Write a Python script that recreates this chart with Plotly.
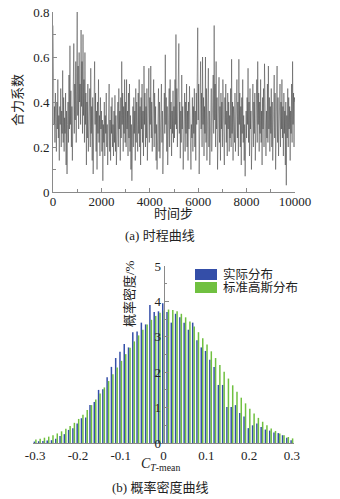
import plotly.graph_objects as go

# ---------- data: (a) time history (sampled every 20 steps) ----------
time_step = list(range(0, 10001, 20))
force_coef = [
    0.74, 0.45, 0.30, 0.38, 0.22, 0.44, 0.32, 0.18, 0.40, 0.28, 0.50, 0.24, 0.34, 0.14, 0.38, 0.30, 0.46, 0.20, 0.36, 0.26, 0.54, 0.22, 0.42, 0.18, 0.33,
    0.26, 0.44, 0.12, 0.36, 0.08, 0.30, 0.40, 0.22, 0.52, 0.28, 0.65, 0.30, 0.45, 0.20, 0.38, 0.14, 0.42, 0.36, 0.66, 0.26, 0.48, 0.32, 0.58, 0.22, 0.44,
    0.80, 0.34, 0.56, 0.28, 0.62, 0.40, 0.48, 0.30, 0.72, 0.38, 0.58, 0.26, 0.70, 0.34, 0.50, 0.22, 0.62, 0.30, 0.44, 0.12, 0.40, 0.24, 0.48, 0.18, 0.36,
    0.28, 0.46, 0.20, 0.55, 0.26, 0.38, 0.14, 0.42, 0.08, 0.32, 0.24, 0.58, 0.30, 0.44, 0.18, 0.36, 0.10, 0.40, 0.26, 0.50, 0.22, 0.34, 0.16, 0.42, 0.28,
    0.36, 0.18, 0.32, 0.05, 0.30, 0.22, 0.40, 0.16, 0.34, 0.26, 0.44, 0.20, 0.30, 0.12, 0.36, 0.24, 0.48, 0.18, 0.32, 0.14, 0.38, 0.26, 0.42, 0.20, 0.30,
    0.16, 0.36, 0.22, 0.43, 0.18, 0.34, 0.12, 0.30, 0.26, 0.40, 0.20, 0.46, 0.28, 0.36, 0.14, 0.42, 0.24, 0.58, 0.30, 0.44, 0.18, 0.38, 0.26, 0.50, 0.22,
    0.40, 0.20, 0.50, 0.28, 0.36, 0.16, 0.44, 0.24, 0.48, 0.18, 0.34, 0.10, 0.30, 0.05, 0.28, 0.38, 0.20, 0.42, 0.26, 0.36, 0.14, 0.46, 0.22, 0.40, 0.30,
    0.18, 0.44, 0.26, 0.50, 0.20, 0.38, 0.12, 0.42, 0.28, 0.48, 0.22, 0.36, 0.16, 0.56, 0.30, 0.44, 0.20, 0.38, 0.24, 0.46, 0.14, 0.40, 0.26, 0.55, 0.22,
    0.42, 0.30, 0.56, 0.24, 0.40, 0.18, 0.36, 0.28, 0.50, 0.20, 0.44, 0.26, 0.38, 0.14, 0.30, 0.10, 0.34, 0.24, 0.46, 0.18, 0.40, 0.15, 0.36, 0.28, 0.48,
    0.22, 0.36, 0.08, 0.30, 0.20, 0.44, 0.26, 0.61, 0.30, 0.42, 0.18, 0.38, 0.12, 0.34, 0.24, 0.46, 0.20, 0.50, 0.28, 0.40, 0.16, 0.36, 0.26, 0.45, 0.22,
    0.38, 0.24, 0.50, 0.30, 0.70, 0.28, 0.46, 0.20, 0.42, 0.32, 0.66, 0.26, 0.40, 0.15, 0.36, 0.22, 0.52, 0.28, 0.38, 0.10, 0.32, 0.24, 0.44, 0.18, 0.40,
    0.26, 0.48, 0.20, 0.36, 0.14, 0.40, 0.28, 0.47, 0.22, 0.34, 0.10, 0.30, 0.24, 0.42, 0.18, 0.38, 0.26, 0.46, 0.20, 0.36, 0.14, 0.44, 0.30, 0.52, 0.73,
    0.32, 0.48, 0.08, 0.36, 0.24, 0.58, 0.28, 0.44, 0.20, 0.60, 0.30, 0.42, 0.16, 0.38, 0.26, 0.60, 0.22, 0.46, 0.14, 0.40, 0.28, 0.55, 0.20, 0.36, 0.12,
    0.34, 0.24, 0.46, 0.18, 0.40, 0.30, 0.52, 0.26, 0.74, 0.32, 0.48, 0.20, 0.58, 0.28, 0.42, 0.10, 0.36, 0.24, 0.51, 0.22, 0.38, 0.14, 0.44, 0.28, 0.40,
    0.20, 0.50, 0.26, 0.38, 0.12, 0.42, 0.30, 0.48, 0.22, 0.36, 0.16, 0.44, 0.28, 0.40, 0.18, 0.34, 0.24, 0.46, 0.20, 0.59, 0.26, 0.40, 0.14, 0.38, 0.30,
    0.22, 0.44, 0.18, 0.36, 0.28, 0.50, 0.24, 0.40, 0.16, 0.59, 0.30, 0.44, 0.20, 0.38, 0.12, 0.42, 0.26, 0.50, 0.22, 0.34, 0.14, 0.30, 0.07, 0.28, 0.36,
    0.24, 0.42, 0.30, 0.55, 0.22, 0.40, 0.16, 0.46, 0.28, 0.36, 0.10, 0.32, 0.24, 0.48, 0.20, 0.40, 0.26, 0.44, 0.14, 0.38, 0.28, 0.50, 0.22, 0.58, 0.30,
    0.44, 0.18, 0.40, 0.26, 0.50, 0.22, 0.36, 0.12, 0.42, 0.28, 0.46, 0.20, 0.57, 0.30, 0.40, 0.16, 0.36, 0.24, 0.48, 0.22, 0.56, 0.28, 0.42, 0.18, 0.38,
    0.26, 0.46, 0.20, 0.40, 0.14, 0.36, 0.28, 0.52, 0.24, 0.44, 0.10, 0.38, 0.30, 0.56, 0.22, 0.42, 0.16, 0.36, 0.26, 0.48, 0.20, 0.40, 0.28, 0.50, 0.24,
    0.38, 0.16, 0.44, 0.26, 0.36, 0.12, 0.40, 0.03, 0.34, 0.24, 0.46, 0.20, 0.42, 0.28, 0.38, 0.14, 0.36, 0.26, 0.48, 0.22, 0.58, 0.30, 0.44, 0.20, 0.42,
    0.40,
]
time_ticks = [0, 2000, 4000, 6000, 8000, 10000]

# ---------- data: (b) probability density ----------
bin_centers = [round(-0.30 + 0.01 * i, 2) for i in range(61)]
actual_pct = [
    0.04, 0.05, 0.06, 0.07, 0.08, 0.12, 0.20, 0.25, 0.37, 0.42,
    0.55, 0.70, 0.72, 1.07, 1.16, 1.50, 1.52, 1.86, 2.15, 2.40,
    2.58, 2.80, 2.70, 3.13, 3.15, 3.40, 3.35, 3.90, 3.70, 3.72,
    3.95,
    3.70, 3.40, 3.65, 3.55, 3.40, 3.20, 3.40, 2.90, 2.70, 2.60,
    2.35, 2.15, 1.64, 1.64, 1.02, 1.02, 1.07, 0.85, 0.75, 0.42,
    0.50, 0.55, 0.45, 0.38, 0.35, 0.30, 0.28, 0.22, 0.15, 0.08,
]
gauss_pct = [
    0.10, 0.12, 0.15, 0.18, 0.22, 0.27, 0.33, 0.40, 0.48, 0.57,
    0.68, 0.80, 0.93, 1.07, 1.23, 1.40, 1.57, 1.75, 1.94, 2.13,
    2.32, 2.51, 2.69, 2.87, 3.04, 3.20, 3.35, 3.48, 3.59, 3.68,
    3.74,
    3.77, 3.76, 3.72, 3.65, 3.55, 3.43, 3.29, 3.13, 2.96, 2.78,
    2.59, 2.40, 2.20, 2.01, 1.82, 1.63, 1.45, 1.28, 1.12, 0.97,
    0.83, 0.71, 0.60, 0.50, 0.41, 0.34, 0.27, 0.22, 0.17, 0.13,
]
c_ticks = [-0.3, -0.2, -0.1, 0, 0.1, 0.2, 0.3]
series_names = ["实际分布", "标准高斯分布"]

W, H = 340, 499
FONT = "Liberation Serif, Noto Sans CJK SC, serif"
AX = "#8a8a8a"
BLUE = "rgb(52,78,168)"
GREEN = "rgb(112,192,64)"

def px(x):
    return x / W

def py(y):
    return 1 - y / H

fig = go.Figure()

fig.add_trace(go.Scatter(
    x=time_step, y=force_coef, mode="lines",
    line=dict(color="rgba(45,45,45,0.75)", width=0.6),
    xaxis="x", yaxis="y", showlegend=False, hoverinfo="skip",
))

fig.add_trace(go.Bar(
    x=bin_centers, y=actual_pct, name=series_names[0],
    marker=dict(color=BLUE, line=dict(width=0)),
    xaxis="x2", yaxis="y2", showlegend=False,
))
fig.add_trace(go.Bar(
    x=bin_centers, y=gauss_pct, name=series_names[1],
    marker=dict(color=GREEN, line=dict(width=0)),
    xaxis="x2", yaxis="y2", showlegend=False,
))

tickfont = dict(family=FONT, size=13, color="#222")

fig.update_layout(
    width=W, height=H,
    margin=dict(l=0, r=0, t=0, b=0, autoexpand=False),
    paper_bgcolor="white", plot_bgcolor="white",
    font=dict(family=FONT, size=13, color="#222"),
    barmode="group", bargap=0.3, bargroupgap=0.0,
    xaxis=dict(
        domain=[px(53), px(295)], range=[0, 10000], anchor="y", automargin=False,
        showgrid=False, zeroline=False, showline=True, linecolor=AX, linewidth=1,
        tickvals=time_ticks, ticktext=[str(t) for t in time_ticks],
        ticks="inside", ticklen=4, tickcolor=AX,
        minor=dict(dtick=1000, tick0=0, ticks="inside", ticklen=3, tickcolor=AX),
        tickfont=tickfont, ticklabelstandoff=-3,
    ),
    yaxis=dict(
        domain=[py(192), py(12)], range=[0, 0.8], anchor="x", automargin=False,
        showgrid=False, zeroline=False, showline=True, linecolor=AX, linewidth=1,
        tickvals=[0, 0.2, 0.4, 0.6, 0.8], ticktext=["0", "0.2", "0.4", "0.6", "0.8"],
        ticks="inside", ticklen=4, tickcolor=AX,
        minor=dict(dtick=0.1, tick0=0, ticks="inside", ticklen=3, tickcolor=AX),
        tickfont=tickfont,
    ),
    xaxis2=dict(
        domain=[px(33), px(294)], range=[-0.305, 0.305], anchor="y2", automargin=False,
        showgrid=False, zeroline=False, showline=True, linecolor=AX, linewidth=1,
        tickvals=c_ticks, ticktext=[f"{t:g}" for t in c_ticks],
        ticks="", tickfont=tickfont,
    ),
    yaxis2=dict(
        domain=[py(443), py(266)], range=[0, 5], anchor="free", automargin=False,
        position=px(163.5),
        showgrid=False, zeroline=False, showline=True, linecolor=AX, linewidth=1,
        tickvals=[0, 1, 2, 3, 4, 5],
        ticks="inside", ticklen=4, tickcolor=AX,
        minor=dict(dtick=0.5, tick0=0, ticks="inside", ticklen=2, tickcolor=AX),
        tickfont=tickfont, ticklabelstandoff=0,
    ),
)

ann = [
    dict(text="合力系数", x=px(18), y=py(100), textangle=-90, size=13),
    dict(text="时间步", x=px(173), y=py(213), size=13),
    dict(text="(a) 时程曲线", x=px(160), y=py(235), size=13),
    dict(text="概率密度/%", x=px(129), y=py(294), textangle=-90, size=13),
    dict(text="<i>C</i><sub><i>T</i>-mean</sub>", x=px(160), y=py(464), size=14),
    dict(text="(b) 概率密度曲线", x=px(160), y=py(487), size=13),
]
for a in ann:
    fig.add_annotation(
        text=a["text"], x=a["x"], y=a["y"], xref="paper", yref="paper",
        showarrow=False, textangle=a.get("textangle", 0),
        font=dict(family=FONT, size=a["size"], color="#222"),
        xanchor="center", yanchor="middle",
    )

# legend drawn with shapes + text
for i, (nm, col) in enumerate(zip(series_names, [BLUE, GREEN])):
    y0 = 269 + i * 13
    fig.add_shape(type="rect", xref="paper", yref="paper",
                  x0=px(195), x1=px(217), y0=py(y0 + 11), y1=py(y0),
                  fillcolor=col, line=dict(width=0))
    fig.add_annotation(text=nm, x=px(221), y=py(y0 + 5.5), xref="paper", yref="paper",
                       showarrow=False, xanchor="left", yanchor="middle",
                       font=dict(family=FONT, size=12.5, color="#222"))

fig.write_html(
    "out.html",
    config={"displayModeBar": False, "staticPlot": True},
    post_script="document.body.style.margin='0';document.body.style.padding='0';",
)
